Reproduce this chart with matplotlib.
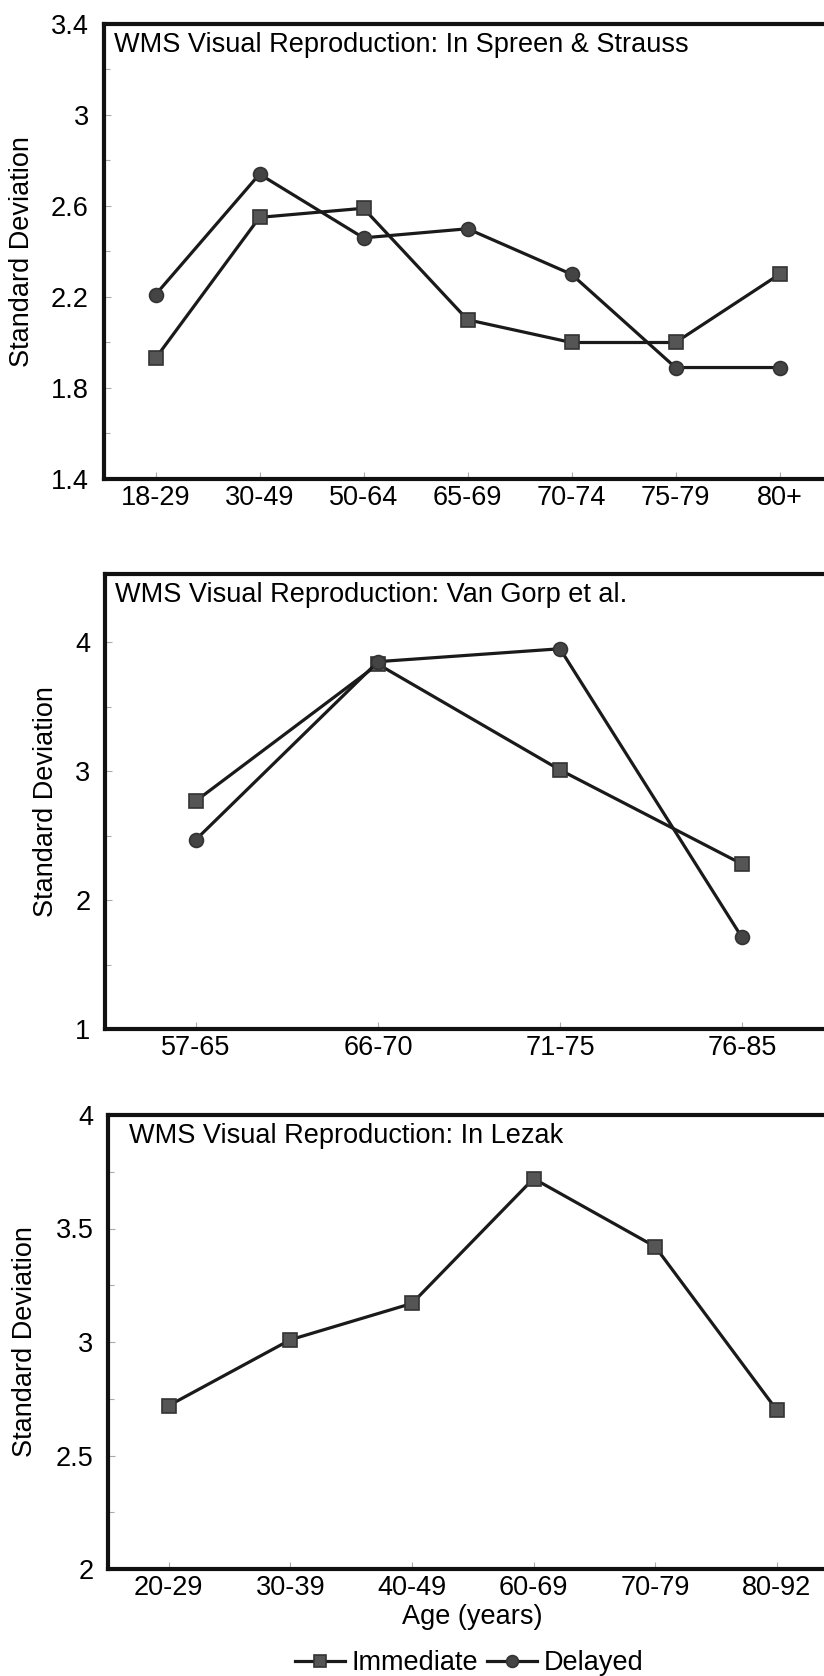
import numpy as np
import matplotlib
matplotlib.use("Agg")
import matplotlib.pyplot as plt

W, H = 824, 1676

# WMS Visual Reproduction, SD by age band
ages_ss = ["18-29", "30-49", "50-64", "65-69", "70-74", "75-79", "80+"]
imm_ss = [1.93, 2.55, 2.59, 2.10, 2.00, 2.00, 2.30]
del_ss = [2.21, 2.74, 2.46, 2.50, 2.30, 1.89, 1.89]

ages_vg = ["57-65", "66-70", "71-75", "76-85"]
imm_vg = [2.77, 3.83, 3.01, 2.28]
del_vg = [2.47, 3.85, 3.95, 1.71]

ages_lz = ["20-29", "30-39", "40-49", "60-69", "70-79", "80-92"]
imm_lz = [2.72, 3.01, 3.17, 3.72, 3.42, 2.70]

plt.rcParams['font.family'] = ['Liberation Sans', 'DejaVu Sans']
FS = 19.5
LINE = '#1a1a1a'


def box(left, top, right, bottom):
    # pixel box -> figure fraction [l, b, w, h]
    return [left / W, 1 - bottom / H, (right - left) / W, (bottom - top) / H]


def panel(rect, cats, series, ylo, yhi, ytop, ystep, title, title_dx, ylab_x):
    ax = fig.add_axes(rect)
    x = np.arange(len(cats))
    handles = []
    for vals, mk, ms, fc in series:
        h, = ax.plot(x, vals, color=LINE, lw=2.3, marker=mk, markersize=ms,
                     markerfacecolor=fc, markeredgecolor='#333333', markeredgewidth=1.2)
        handles.append(h)
    ax.set_xlim(-0.5, len(cats) - 0.5)
    ax.set_ylim(ylo, ytop)
    ax.set_xticks(x)
    ax.set_xticklabels(cats, fontsize=FS)
    yt = np.arange(ylo, yhi + 1e-9, ystep)
    ax.set_yticks(yt)
    ax.set_yticklabels(['%g' % round(v, 2) for v in yt], fontsize=FS)
    ax.set_yticks(yt[:-1] + ystep / 2, minor=True)
    ax.tick_params(which='both', direction='in', color='#aaaaaa', width=0.8)
    ax.tick_params(which='major', length=5)
    ax.tick_params(which='minor', length=4)
    ax.tick_params(axis='x', pad=4)
    ax.tick_params(axis='y', pad=10.5)
    for s in ax.spines.values():
        s.set_linewidth(3.0)
        s.set_color('#111111')
    ax.spines['right'].set_visible(False)
    ax.set_ylabel('Standard Deviation', fontsize=FS)
    ax.yaxis.label.set_va('center')
    ax.yaxis.set_label_coords(ylab_x, 0.5)
    ax.annotate(title, xy=(0, 1), xycoords='axes fraction',
                xytext=(title_dx, -21 * 0.72), textcoords='offset points',
                ha='left', va='center', fontsize=FS)
    return ax, handles


fig = plt.figure(figsize=(W / 100, H / 100), dpi=100)

sq = ('s', 10.5, '#555555')
ci = ('o', 10, '#444444')

ax1, hs = panel(box(103.5, 24, 831.5, 479), ages_ss,
                [(imm_ss,) + sq, (del_ss,) + ci],
                1.4, 3.4, 3.4, 0.4, 'WMS Visual Reproduction: In Spreen & Strauss',
                11 * 0.72, (22 - 103.5) / 728)

ax2, _ = panel(box(105, 574, 833, 1029), ages_vg,
               [(imm_vg,) + sq, (del_vg,) + ci],
               1, 4, 4.53, 1, 'WMS Visual Reproduction: Van Gorp et al.',
               10 * 0.72, (46.5 - 105) / 728)

ax3, _ = panel(box(108, 1115, 837.6, 1569), ages_lz,
               [(imm_lz,) + sq],
               2, 4, 4, 0.5, 'WMS Visual Reproduction: In Lezak',
               21 * 0.72, (25 - 108) / 729.6)
ax3.set_xlabel('Age (years)', fontsize=FS)
ax3.xaxis.label.set_va('center')
ax3.xaxis.set_label_coords((472 - 108) / 729.6, -(1617 - 1569) / 454)

fig.legend(hs, ['Immediate', 'Delayed'], loc='center',
           bbox_to_anchor=(469 / W, 1 - 1663 / H), ncol=2, frameon=False,
           fontsize=FS, handlelength=1.85, handletextpad=0.26, columnspacing=0.3,
           markerscale=0.85, borderpad=0.1)

fig.savefig("out.png", dpi=100, facecolor='white')
